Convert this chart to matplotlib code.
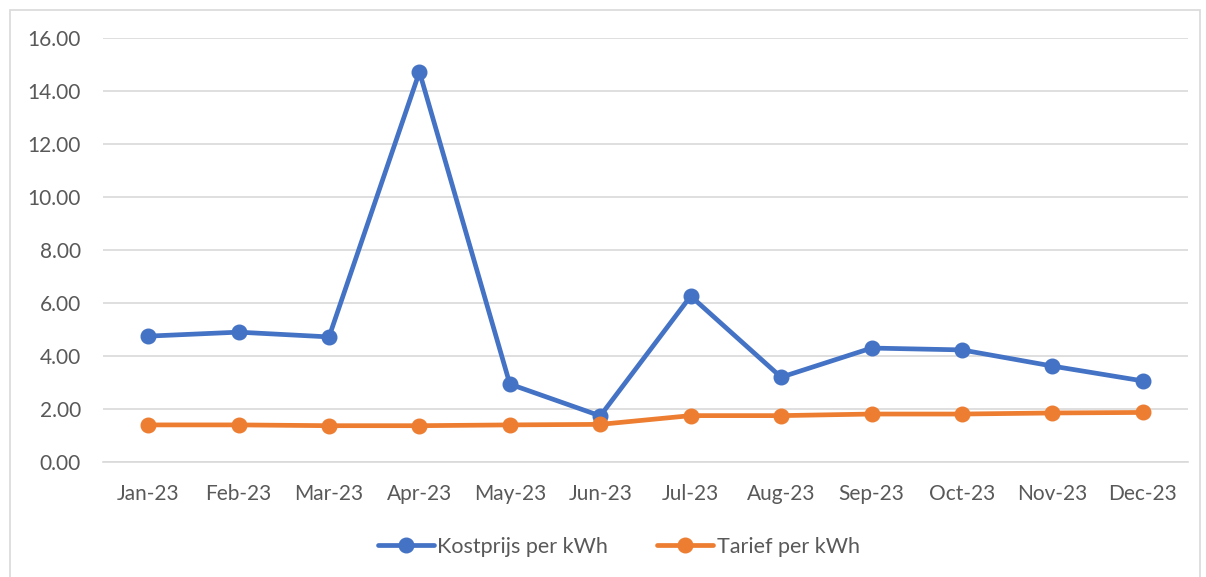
import matplotlib.pyplot as plt
from matplotlib.patches import Rectangle

months = ['Jan-23', 'Feb-23', 'Mar-23', 'Apr-23', 'May-23', 'Jun-23',
          'Jul-23', 'Aug-23', 'Sep-23', 'Oct-23', 'Nov-23', 'Dec-23']
kostprijs = [4.75, 4.90, 4.72, 14.72, 2.94, 1.74, 6.26, 3.20, 4.30, 4.23, 3.62, 3.06]
tarief = [1.40, 1.40, 1.37, 1.37, 1.40, 1.42, 1.75, 1.75, 1.81, 1.81, 1.85, 1.87]
yticks = [0, 2, 4, 6, 8, 10, 12, 14, 16]

plt.rcParams['font.family'] = ['Lato', 'DejaVu Sans']

fig = plt.figure(figsize=(12.06, 5.77), dpi=100)
# light outer frame like the Excel chart area
fig.patches.append(Rectangle((10 / 1206, -0.01), 1190 / 1206, 1 - 10 / 577 + 0.01,
                             transform=fig.transFigure, fill=False,
                             edgecolor='#D9D9D9', lw=1.2))

ax = fig.add_axes([103 / 1206, 1 - 462 / 577, 1085 / 1206, 424 / 577])
x = range(len(months))
ax.plot(x, kostprijs, color='#4472C4', lw=3.4, marker='o', ms=10.5,
        label='Kostprijs per kWh', solid_capstyle='round')
ax.plot(x, tarief, color='#ED7D31', lw=3.4, marker='o', ms=10.5,
        label='Tarief per kWh', solid_capstyle='round')

ax.set_xlim(-0.5, len(months) - 0.5)
ax.set_ylim(0, 16)
ax.set_yticks(yticks)
ax.set_yticklabels([f'{v:.2f}' for v in yticks])
ax.set_xticks(list(x))
ax.set_xticklabels(months)
ax.grid(axis='y', color='#D9D9D9', lw=1.2)
ax.set_axisbelow(True)
for s in ['top', 'right', 'left']:
    ax.spines[s].set_visible(False)
ax.spines['bottom'].set_color('#D9D9D9')
ax.spines['bottom'].set_linewidth(1.2)
ax.tick_params(length=0, labelsize=15, colors='#595959')
ax.tick_params(axis='x', pad=16)
ax.tick_params(axis='y', pad=16)

fig.legend(loc='center', bbox_to_anchor=(0.513, 1 - 547 / 577), ncol=2,
           frameon=False, fontsize=15.5, labelcolor='#595959',
           handlelength=2.6, handletextpad=0.15, columnspacing=2.3)

fig.savefig('out.png', dpi=100)
